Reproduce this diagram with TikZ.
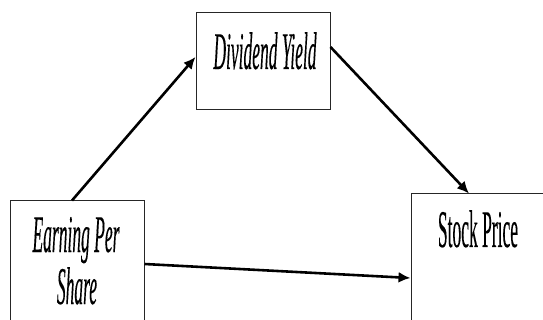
\documentclass[tikz,border=0pt]{standalone}
\usepackage{fontspec}
\usetikzlibrary{arrows.meta}
\newfontfamily\condserif[FakeStretch=0.33,FakeBold=0.15]{Liberation Serif}
\begin{document}
\begin{tikzpicture}[x=1pt,y=-1pt,
  box/.style={draw=black!85, line width=1pt, minimum width=134pt, inner sep=0pt},
  lbl/.style={anchor=base, inner sep=0pt, font=\condserif\fontsize{53}{60}\selectfont},
  conn/.style={line width=2.6pt, -{Latex[length=12pt,width=11pt]}}]
\useasboundingbox (0,0) rectangle (543,320);
\node[box, minimum height=139pt] (eps) at (77,270.5) {};
\node[box, minimum height=97pt] (dy) at (263,61.5) {};
\node[box, minimum height=146pt] (sp) at (478,267) {};
\node[lbl] (t1) at (76,252) {\itshape Earning Per};
\node[lbl] (t2) at (77,304) {\itshape Share};
\node[lbl] (t3) at (265,69) {\itshape Dividend Yield};
\node[lbl] (t4) at (478,247) {Stock Price};
\draw[conn] ([xshift=-5pt]eps.north) -- ([yshift=4.5pt]dy.west);
\draw[conn] ([yshift=14.5pt]dy.east) -- ([xshift=-9pt]sp.north);
\draw[conn] ([yshift=6.5pt]eps.east) -- ([yshift=-11pt]sp.west);
\end{tikzpicture}
\end{document}
